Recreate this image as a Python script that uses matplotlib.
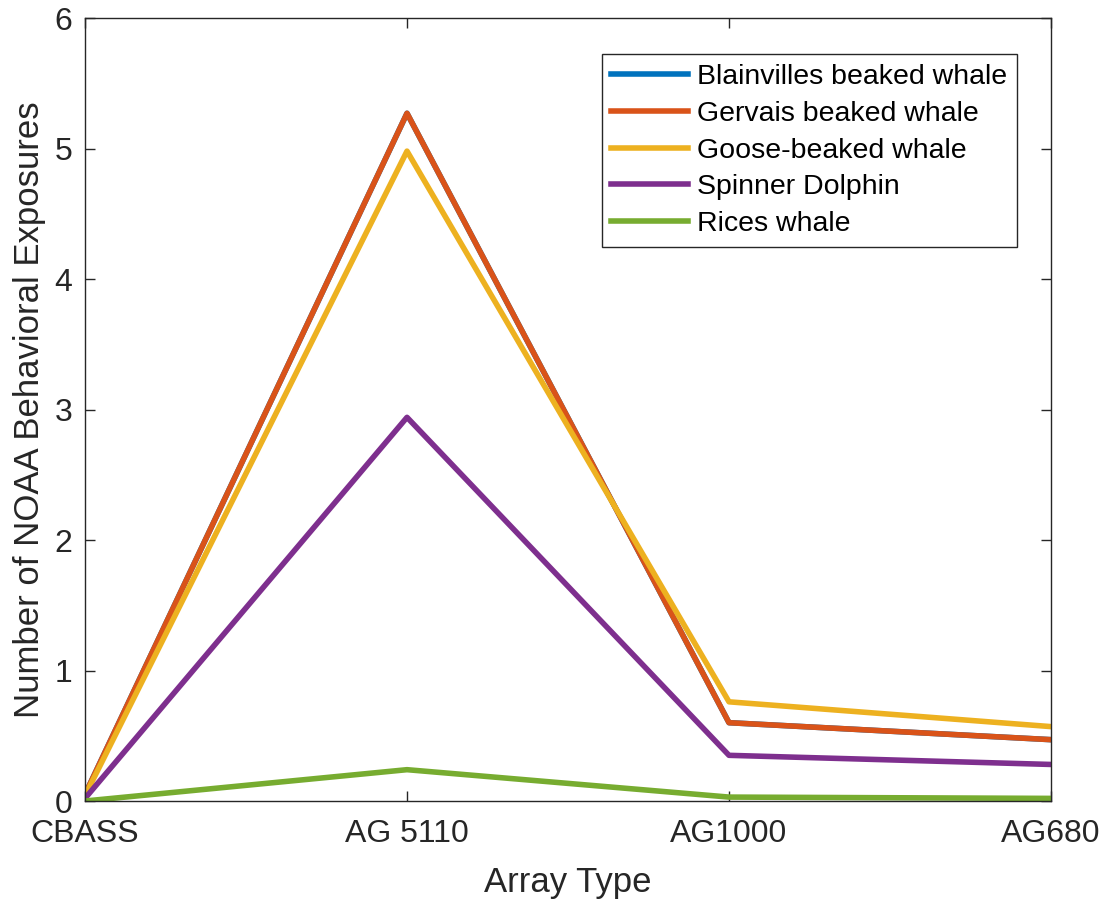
import matplotlib
matplotlib.use("Agg")
import matplotlib.pyplot as plt

plt.rcParams['font.family'] = ['Liberation Sans', 'DejaVu Sans']

categories = ["CBASS", "AG 5110", "AG1000", "AG680"]
blainvilles = [0.05, 5.27, 0.60, 0.47]
gervais = [0.05, 5.27, 0.60, 0.47]
goose = [0.04, 4.98, 0.76, 0.57]
spinner = [0.02, 2.94, 0.35, 0.28]
rices = [0.00, 0.24, 0.03, 0.02]

series = [
    ("Blainvilles beaked whale", blainvilles, "#0072BD"),
    ("Gervais beaked whale", gervais, "#D95319"),
    ("Goose-beaked whale", goose, "#EDB120"),
    ("Spinner Dolphin", spinner, "#7E2F8E"),
    ("Rices whale", rices, "#77AC30"),
]

W, H = 1109, 905
fig = plt.figure(figsize=(W / 100, H / 100), dpi=100)
ax = fig.add_axes([85 / W, 1 - 801 / H, (1051 - 85) / W, (801 - 18) / H])

x = list(range(len(categories)))
for name, vals, col in series:
    ax.plot(x, vals, color=col, lw=4.0, label=name)

ax.set_xlim(0, 3)
ax.set_ylim(0, 6)
ax.set_xticks(x)
ax.set_xticklabels(categories)
ax.set_yticks(range(7))
axcol = '#262626'
for s in ax.spines.values():
    s.set_color(axcol)
    s.set_linewidth(1.0)
ax.tick_params(direction='in', length=7, width=1, colors=axcol, labelsize=23,
               top=True, right=True)
ax.tick_params(axis='x', pad=13)
ax.tick_params(axis='y', pad=9)
ax.set_xlabel("Array Type", fontsize=25, color=axcol, labelpad=12)
ax.set_ylabel("Number of NOAA Behavioral Exposures", fontsize=25, color=axcol, labelpad=6)

leg = ax.legend(loc='upper right', bbox_to_anchor=(1017 / W, 1 - 54 / H),
                bbox_transform=fig.transFigure,
                fontsize=20.5, frameon=True, fancybox=False, handlelength=2.7,
                borderpad=0.35, labelspacing=0.38, handletextpad=0.3, borderaxespad=0)
leg.get_frame().set_edgecolor(axcol)
leg.get_frame().set_linewidth(1.0)
leg.get_frame().set_alpha(1)

fig.savefig("out.png", dpi=100, facecolor='white')
